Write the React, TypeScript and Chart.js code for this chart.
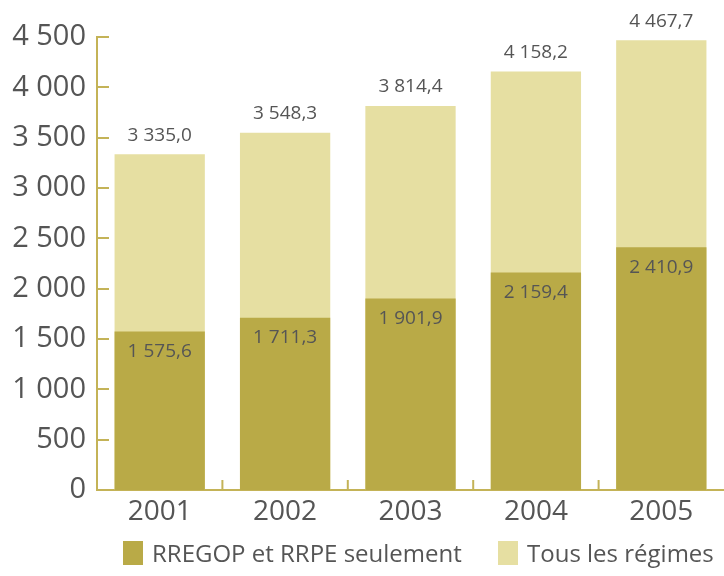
import React, { useEffect, useRef } from "react";
import { Chart, registerables } from "chart.js";

Chart.register(...registerables);

const categories = ["2001", "2002", "2003", "2004", "2005"];
const rregopValues = [1575.6, 1711.3, 1901.9, 2159.4, 2410.9];
const totalValues = [3335.0, 3548.3, 3814.4, 4158.2, 4467.7];
const seriesLabels = ["RREGOP et RRPE seulement", "Tous les régimes"];

const DARK = "#b9aa47";
const LIGHT = "#e6dfa2";
const AXIS = "#c4b357";
const TEXT = "#555555";
const FONT = "'Open Sans', 'Noto Sans', sans-serif";

function fmtThousands(intStr: string): string {
  return intStr.replace(/\B(?=(\d{3})+(?!\d))/g, " ");
}
function fmtValue(v: number): string {
  const [i, d] = v.toFixed(1).split(".");
  return fmtThousands(i) + "," + d;
}

export default function App() {
  const ref = useRef<HTMLCanvasElement | null>(null);

  useEffect(() => {
    document.body.style.margin = "0";
    document.body.style.overflow = "hidden";
    const canvas = ref.current;
    if (!canvas) return;

    const decorations = {
      id: "decorations",
      afterDatasetsDraw(chart: any) {
        const ctx = chart.ctx;
        const area = chart.chartArea;
        const y = chart.scales.y;
        const x = chart.scales.x;
        ctx.save();
        ctx.strokeStyle = AXIS;
        ctx.lineWidth = 2;
        for (let v = 500; v <= 4500; v += 500) {
          const py = Math.round(y.getPixelForValue(v));
          ctx.beginPath();
          ctx.moveTo(area.left, py);
          ctx.lineTo(area.left + 12, py);
          ctx.stroke();
        }
        for (let i = 1; i < categories.length; i++) {
          const px = (x.getPixelForValue(i - 1) + x.getPixelForValue(i)) / 2;
          ctx.beginPath();
          ctx.moveTo(px, area.bottom);
          ctx.lineTo(px, area.bottom - 10);
          ctx.stroke();
        }
        ctx.fillStyle = TEXT;
        ctx.font = `19px ${FONT}`;
        ctx.textAlign = "center";
        ctx.textBaseline = "middle";
        const darkMeta = chart.getDatasetMeta(0);
        const lightMeta = chart.getDatasetMeta(1);
        lightMeta.data.forEach((el: any, i: number) => {
          ctx.fillText(fmtValue(totalValues[i]), el.x, el.y - 19);
        });
        darkMeta.data.forEach((el: any, i: number) => {
          ctx.fillText(fmtValue(rregopValues[i]), el.x, el.y + 20);
        });
        ctx.restore();
      },
    };

    const chart = new Chart(canvas, {
      type: "bar",
      data: {
        labels: categories,
        datasets: [
          {
            label: seriesLabels[0],
            data: rregopValues,
            backgroundColor: DARK,
            barPercentage: 0.72,
            categoryPercentage: 1,
          },
          {
            label: seriesLabels[1],
            data: totalValues,
            backgroundColor: LIGHT,
            barPercentage: 0.72,
            categoryPercentage: 1,
          },
        ],
      },
      options: {
        animation: false,
        responsive: false,
        maintainAspectRatio: false,
        layout: { padding: { top: 37, left: 0, right: 0, bottom: 0 } },
        plugins: {
          legend: { display: false },
          tooltip: { enabled: false },
        },
        scales: {
          x: {
            stacked: true,
            grid: { display: false, drawTicks: false },
            border: { display: true, color: AXIS, width: 2 },
            ticks: {
              color: TEXT,
              font: { family: FONT, size: 28 },
              padding: 5,
            },
            afterFit(scale: any) {
              scale.height = 86;
            },
          },
          y: {
            stacked: false,
            min: 0,
            max: 4500,
            grid: { display: false, drawTicks: false },
            border: { display: true, color: AXIS, width: 2 },
            ticks: {
              stepSize: 500,
              color: TEXT,
              font: { family: FONT, size: 29 },
              padding: 11,
              callback: (v: any) => fmtThousands(String(v)),
            },
            afterFit(scale: any) {
              scale.width = 97;
            },
          },
        },
      },
      plugins: [decorations],
    });
    return () => chart.destroy();
  }, []);

  const legendText: React.CSSProperties = {
    position: "absolute",
    top: 553,
    transform: "translateY(-50%)",
    fontFamily: FONT,
    fontSize: 24,
    color: TEXT,
    whiteSpace: "nowrap",
    lineHeight: 1,
  };

  return (
    <div style={{ position: "relative", width: 724, height: 576, background: "#fff" }}>
      <canvas ref={ref} width={724} height={576} style={{ display: "block" }} />
      <div style={{ position: "absolute", left: 123, top: 541, width: 20, height: 24, background: DARK }} />
      <div style={{ ...legendText, left: 152 }}>{seriesLabels[0]}</div>
      <div style={{ position: "absolute", left: 498, top: 541, width: 20, height: 24, background: LIGHT }} />
      <div style={{ ...legendText, left: 527 }}>{seriesLabels[1]}</div>
    </div>
  );
}
